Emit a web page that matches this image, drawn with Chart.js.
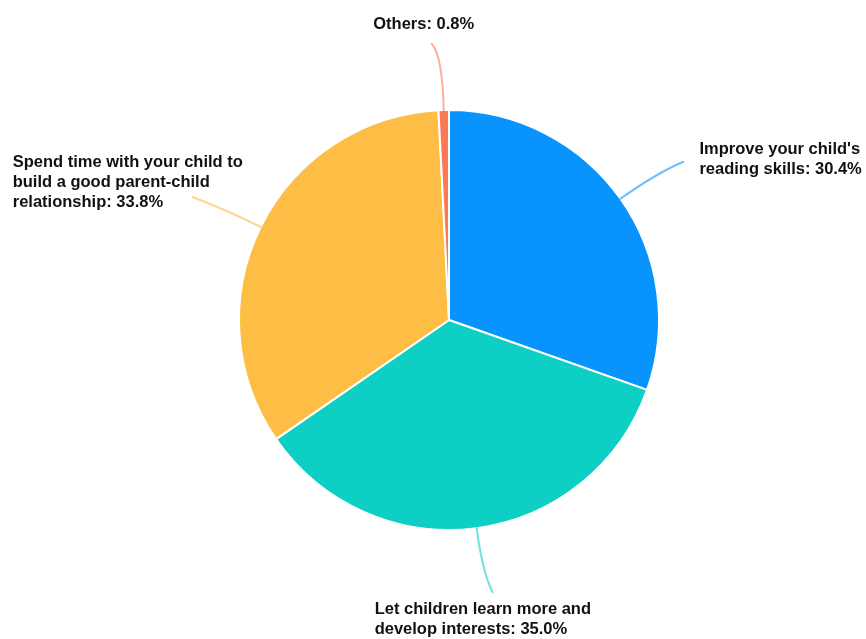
<!DOCTYPE html>
<html>
<head>
<meta charset="utf-8">
<script src="https://cdn.jsdelivr.net/npm/chart.js@4"></script>
<style>
html,body{margin:0;padding:0;background:#fff;}
#wrap{width:866px;height:639px;}
</style>
</head>
<body>
<div id="wrap"><canvas id="c" width="866" height="639"></canvas></div>
<script>
const categories = [
  "Improve your child's reading skills",
  "Let children learn more and develop interests",
  "Spend time with your child to build a good parent-child relationship",
  "Others"
];
const values = [30.4, 35.0, 33.8, 0.8];
const labelLines = [
  ["Improve your child's", "reading skills: 30.4%"],
  ["Let children learn more and", "develop interests: 35.0%"],
  ["Spend time with your child to", "build a good parent-child", "relationship: 33.8%"],
  ["Others: 0.8%"]
];
const colors = ["#0894FC", "#0DCFC4", "#FEBD45", "#FA7A55"];

// leader / label layout (pixels, relative to slice edge)
const leaderCfg = [
  {ctrl: 45, end: [63, -37], text: [16, -12], align: 'left'},
  {ctrl: 45, end: [16, 64], text: [-118, 17], align: 'left'},
  {ctrl: 40, end: [-68, -30], text: [-180, -35], align: 'left'},
  {ctrl: 55, end: [-12, -66], text: [-8, -20], align: 'center'}
];

function hexA(hex, a){
  const n = parseInt(hex.slice(1),16);
  return `rgba(${(n>>16)&255},${(n>>8)&255},${n&255},${a})`;
}

const leaderPlugin = {
  id: 'leaders',
  afterDatasetsDraw(chart){
    const ctx = chart.ctx;
    const meta = chart.getDatasetMeta(0);
    meta.data.forEach((arc, i) => {
      const p = arc.getProps(['x','y','startAngle','endAngle','outerRadius'], true);
      const mid = (p.startAngle + p.endAngle) / 2;
      const cx = Math.cos(mid), cy = Math.sin(mid);
      const ex = p.x + cx * p.outerRadius, ey = p.y + cy * p.outerRadius;
      const cfg = leaderCfg[i];
      const kx = ex + cx * cfg.ctrl, ky = ey + cy * cfg.ctrl;
      const tx = ex + cfg.end[0], ty = ey + cfg.end[1];
      ctx.save();
      ctx.strokeStyle = hexA(colors[i], 0.6);
      ctx.lineWidth = 2;
      ctx.lineCap = 'round';
      ctx.beginPath();
      ctx.moveTo(ex, ey);
      ctx.quadraticCurveTo(kx, ky, tx, ty);
      ctx.stroke();
      ctx.fillStyle = '#111';
      ctx.font = "bold 16.5px 'Liberation Sans', Arial, sans-serif";
      ctx.textAlign = cfg.align;
      ctx.textBaseline = 'middle';
      labelLines[i].forEach((ln, j) => {
        ctx.fillText(ln, tx + cfg.text[0], ty + cfg.text[1] + j * 20);
      });
      ctx.restore();
    });
  }
};

new Chart(document.getElementById('c'), {
  type: 'pie',
  data: {
    labels: categories,
    datasets: [{
      data: values,
      backgroundColor: colors,
      borderColor: '#ffffff',
      borderWidth: 2
    }]
  },
  options: {
    responsive: false,
    animation: false,
    layout: {padding: {top: 109, bottom: 108, left: 238, right: 206}},
    plugins: {
      legend: {display: false},
      tooltip: {enabled: false}
    }
  },
  plugins: [leaderPlugin]
});
</script>
</body>
</html>
